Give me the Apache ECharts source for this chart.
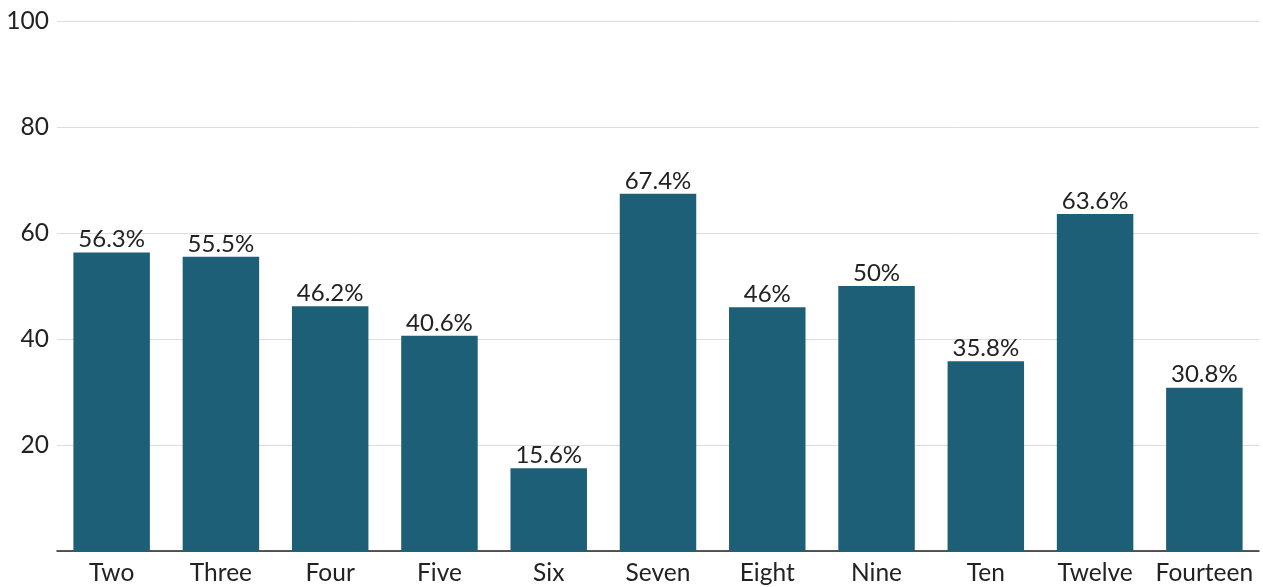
<!DOCTYPE html>
<html>
<head>
<meta charset="utf-8">
<script src="https://cdn.jsdelivr.net/npm/echarts@6/dist/echarts.min.js"></script>
<style>
  html, body { margin: 0; padding: 0; background: #fff; }
  #chart { width: 1263px; height: 587px; }
</style>
</head>
<body>
<div id="chart"></div>
<script>
var categories = ['Two', 'Three', 'Four', 'Five', 'Six', 'Seven', 'Eight', 'Nine', 'Ten', 'Twelve', 'Fourteen'];
var values = [56.3, 55.5, 46.2, 40.6, 15.6, 67.4, 46, 50, 35.8, 63.6, 30.8];

var chart = echarts.init(document.getElementById('chart'));
var option = {
    animation: false,
    textStyle: { fontFamily: 'Lato' },
    grid: { left: 57, right: 4, top: 21, bottom: 36, containLabel: false },
    xAxis: {
        type: 'category',
        data: categories,
        axisTick: { show: false },
        axisLine: { lineStyle: { color: '#222', width: 1.5 } },
        axisLabel: { color: '#222', fontSize: 24.5, margin: 10, interval: 0, fontFamily: 'Lato' }
    },
    yAxis: {
        type: 'value',
        min: 0,
        max: 100,
        interval: 20,
        axisLine: { show: false },
        axisTick: { show: false },
        splitLine: { lineStyle: { color: '#dddddd', width: 1 } },
        axisLabel: {
            color: '#222', fontSize: 24.5, margin: 8, fontFamily: 'Lato',
            showMinLabel: false,
            formatter: function (v) { return v === 0 ? '' : v; }
        }
    },
    series: [{
        type: 'bar',
        data: values,
        barCategoryGap: '30%',
        itemStyle: { color: '#1e5f78' },
        label: {
            show: true,
            position: 'top',
            distance: 1,
            color: '#222',
            fontSize: 24,
            fontFamily: 'Lato',
            formatter: function (p) { return p.value + '%'; }
        }
    }]
};
chart.setOption(option);
</script>
</body>
</html>
